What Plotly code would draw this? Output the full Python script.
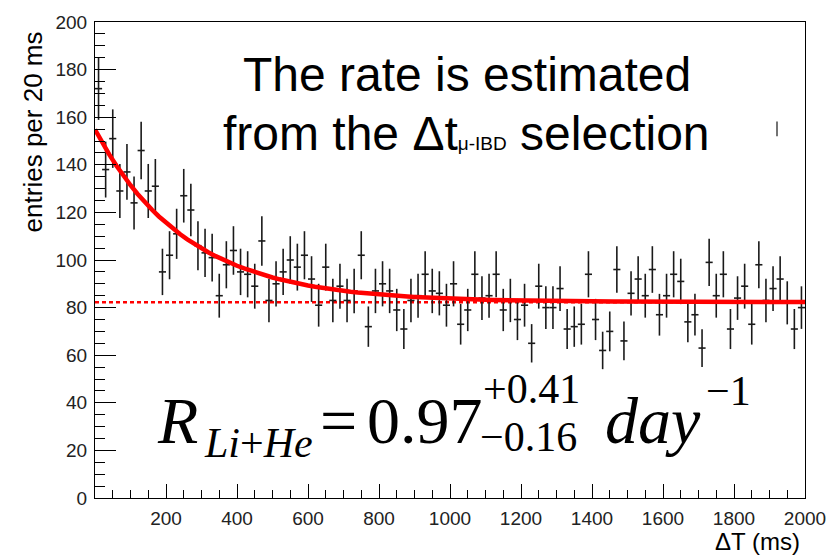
import numpy as np
import plotly.graph_objects as go

# ---------------- data ----------------
bin_width = 20  # ms
counts = [172, 138, 151, 129, 137, 124, 146, 129, 131, 95,
          102, 111, 127, 121, 106, 103, 101, 85, 98, 104,
          95, 94, 89, 108, 83, 90, 95, 100, 97, 102,
          92, 81, 97, 83, 89, 83, 87, 102, 72, 87,
          90, 87, 79, 71, 83, 85, 94, 87, 86, 81,
          90, 73, 79, 94, 84, 85, 94, 79, 83, 75,
          81, 65, 89, 80, 80, 88, 71, 72, 73, 94,
          75, 62, 70, 96, 66, 86, 92, 85, 96, 77,
          85, 94, 91, 74, 77, 63, 99, 85, 94, 71,
          84, 89, 73, 98, 83, 88, 92, 82, 71, 80]
fit_baseline = 82.3
fit_amplitude = 72.5
fit_tau = 257.0
x_ticks = [0, 200, 400, 600, 800, 1000, 1200, 1400, 1600, 1800, 2000]
x_ticktext = ["", "200", "400", "600", "800", "1000", "1200", "1400", "1600", "1800", "2000"]

counts = np.array(counts, dtype=float)
centers = bin_width * (np.arange(len(counts)) + 0.5)
errors = np.sqrt(counts)
fx = np.linspace(0, 2000, 101)
fy = fit_baseline + fit_amplitude * np.exp(-fx / fit_tau)

# ---------------- geometry helpers (pixel -> paper) ----------------
W, H = 840, 555
L, R, T, B = 95, 35, 15, 57
PW, PH = W - L - R, H - T - B
def px(x):
    return (x - L) / PW
def py(y):
    return (H - B - y) / PH

fig = go.Figure()
fig.add_trace(go.Scatter(x=[0, 2000], y=[fit_baseline, fit_baseline], mode="lines",
                         line=dict(color="#ff0000", width=2.5, dash="4px,3px"),
                         hoverinfo="skip", showlegend=False))
fig.add_trace(go.Scatter(x=centers, y=counts, mode="markers",
                         marker=dict(size=2, color="rgba(0,0,0,0)"),
                         error_y=dict(type="data", array=errors, width=0, thickness=1.6, color="#1a1a1a"),
                         error_x=dict(type="constant", value=bin_width / 2, width=0, thickness=1.6, color="#1a1a1a"),
                         showlegend=False))
fig.add_trace(go.Scatter(x=fx, y=fy, mode="lines",
                         line=dict(color="#ff0000", width=4.5),
                         hoverinfo="skip", showlegend=False))

tickfont = dict(family="Liberation Sans, Arial, sans-serif", size=19, color="#222")
fig.update_xaxes(range=[0, 2000], tickmode="array", tickvals=x_ticks, ticktext=x_ticktext,
                 ticks="inside", ticklen=14, tickwidth=1, tickcolor="black",
                 minor=dict(tickmode="linear", tick0=0, dtick=50, ticks="inside", ticklen=8,
                            tickwidth=1, tickcolor="black", showgrid=False),
                 showline=True, linecolor="black", linewidth=1, mirror=True,
                 showgrid=False, zeroline=False, tickfont=tickfont, ticklabelstandoff=3)
fig.update_yaxes(range=[0, 200], tick0=0, dtick=20,
                 ticks="inside", ticklen=21, tickwidth=1, tickcolor="black",
                 minor=dict(tickmode="linear", tick0=0, dtick=5, ticks="inside", ticklen=10,
                            tickwidth=1, tickcolor="black", showgrid=False),
                 showline=True, linecolor="black", linewidth=1, mirror=True,
                 showgrid=False, zeroline=False, tickfont=tickfont, ticklabelstandoff=3)

sans = "Liberation Sans, Arial, sans-serif"
serif = "Liberation Serif, Times New Roman, serif"
ann = []
OFF = -6  # correction for annotation box padding
def add(text, x, y, size, family, xanchor="left", yanchor="top", angle=0, color="black"):
    ann.append(dict(text=text, x=px(x), y=py(y), xref="paper", yref="paper",
                    xanchor=xanchor, yanchor=yanchor, showarrow=False, textangle=angle,
                    font=dict(size=size, family=family, color=color), borderpad=0))

# axis titles
add("entries per 20 ms", 33, 127, 26, sans, xanchor="center", yanchor="middle", angle=-90)
add("ΔT (ms)", 801, 542, 24, sans, xanchor="right", yanchor="middle")

# text box
add("The rate is estimated", 467, 90 - 0.905 * 48 + OFF, 48, sans, xanchor="center")
add('from the Δt<span style="font-size:19px;font-family:Liberation Sans Narrow,Liberation Sans">μ-IBD</span> selection',
    466, 150 - 0.905 * 48 + OFF, 48, sans, xanchor="center")

# formula
base = 446
ms = 66
ss = 42
add("<i>R</i>", 156, base - 0.891 * ms + OFF, ms, serif)
add("<i>Li</i>+<i>He</i>", 203, 461 - 0.891 * 42 + OFF, 42, serif)
add("=", 319, base - 0.891 * ms + OFF, ms, serif)
add("0.97", 366, base - 0.891 * ms + OFF, ms, serif)
add("+0.41", 482, 406 - 0.891 * ss + OFF, ss, serif)
add("\u22120.16", 479, 455 - 0.891 * ss + OFF, ss, serif)
add("<i>day</i>", 604, base - 0.891 * ms + OFF, ms, serif)
add("\u22121", 705, 408 - 0.891 * ss + OFF, ss, serif)

fig.update_layout(width=W, height=H, margin=dict(l=L, r=R, t=T, b=B),
                  paper_bgcolor="white", plot_bgcolor="white", annotations=ann,
                  showlegend=False)
fig.add_shape(type="line", xref="paper", yref="paper", x0=px(777), x1=px(777), y0=py(116), y1=py(131),
              line=dict(color="#444", width=1.5))
fig.write_html("out.html")
